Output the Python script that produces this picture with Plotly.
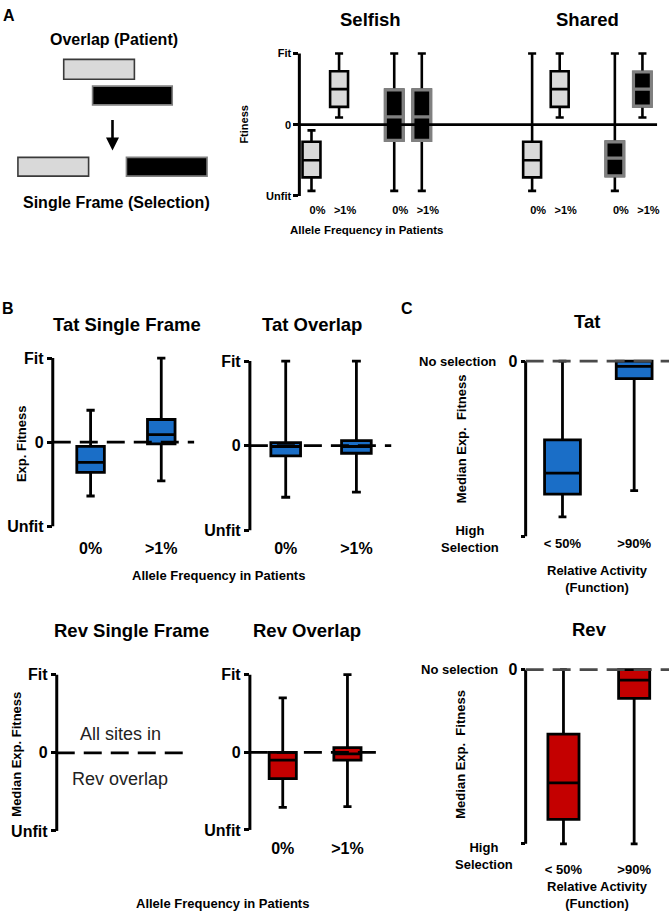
import plotly.graph_objects as go

W, H = 672, 920
FONT = "Liberation Sans, Arial, Helvetica, sans-serif"

# ---------------- DATA ----------------
# Panel A: expected fitness patterns (schematic), Selfish vs Shared sites
a_group = ["Selfish", "Selfish", "Selfish", "Selfish", "Shared", "Shared", "Shared", "Shared"]
a_frame = ["gray", "gray", "black", "black", "gray", "gray", "black", "black"]
a_slot = [0, 1, 3, 4, 8, 9, 11, 12]
a_freq = ["0%", ">1%", "0%", ">1%", "0%", ">1%", "0%", ">1%"]
a_lo = [-0.93, 0.10, -0.93, -0.93, -0.93, 0.10, -0.93, 0.10]
a_q1 = [-0.74, 0.25, -0.22, -0.22, -0.74, 0.25, -0.72, 0.26]
a_med = [-0.50, 0.50, 0.11, 0.11, -0.50, 0.50, -0.47, 0.50]
a_q3 = [-0.24, 0.75, 0.49, 0.49, -0.24, 0.75, -0.24, 0.74]
a_hi = [-0.08, 1.00, 1.00, 1.00, 1.00, 1.00, 1.00, 1.00]

# Panel B: allele frequency in patients
b_freq = ["0%", ">1%"]
tat_sf_lo = [-0.64, -0.46]
tat_sf_q1 = [-0.36, -0.02]
tat_sf_med = [-0.24, 0.09]
tat_sf_q3 = [-0.05, 0.27]
tat_sf_hi = [0.38, 1.00]

tat_ov_lo = [-0.61, -0.55]
tat_ov_q1 = [-0.12, -0.09]
tat_ov_med = [-0.01, -0.01]
tat_ov_q3 = [0.035, 0.06]
tat_ov_hi = [1.00, 1.00]

rev_ov_lo = [-0.71, -0.70]
rev_ov_q1 = [-0.34, -0.10]
rev_ov_med = [-0.10, -0.02]
rev_ov_q3 = [0.00, 0.06]
rev_ov_hi = [0.70, 1.00]

# Panel C: relative activity (function)
c_act = ["< 50%", ">90%"]
tat_c_lo = [-0.89, -0.74]
tat_c_q1 = [-0.76, -0.10]
tat_c_med = [-0.64, -0.03]
tat_c_q3 = [-0.45, 0.00]
tat_c_hi = [0.00, 0.00]

rev_c_lo = [-1.00, -1.00]
rev_c_q1 = [-0.86, -0.165]
rev_c_med = [-0.65, -0.06]
rev_c_q3 = [-0.37, 0.00]
rev_c_hi = [0.00, 0.00]

fit_ticks = [-1, 0, 1]
fit_text = ["Unfit", "0", "Fit"]

# ---------------- STYLE ----------------
BLUE = "#1a6ec7"
RED = "#c40000"
LIGHT = "#d9d9d9"
GREY_EDGE = "#808080"
frame_fill = {"gray": LIGHT, "black": "black"}
frame_edge = {"gray": "black", "black": GREY_EDGE}

fig = go.Figure()
axes = {}
shapes = []
annotations = []


def bold(size):
    return dict(family=FONT, size=size, color="black", weight="bold")


def names(n):
    s = "" if n == 1 else str(n)
    return "x" + s, "y" + s, "xaxis" + s, "yaxis" + s


def panel(n, xpx, xrange, ytop, ytop_px, ybot, ybot_px, pad, ytickvals, yticktext,
          ytick_fs, yticklen, xtickvals=None, xticktext=None, xtick_fs=13, xlab_y=0,
          zero_line=None, xshift=0):
    xr, yr, xk, yk = names(n)
    ppu = (ybot_px - ytop_px) / (ytop - ybot)
    top = ytop_px - pad * ppu
    bot = ybot_px + pad * ppu
    xa = dict(domain=[xpx[0] / W, xpx[1] / W], range=xrange, showgrid=False,
              zeroline=False, showline=False, ticks="", fixedrange=True)
    if xtickvals is not None:
        xa.update(tickmode="array", tickvals=xtickvals, ticktext=xticktext,
                  tickfont=bold(xtick_fs), anchor="free",
                  position=1 - (xlab_y - 0.5 * xtick_fs - 2) / H,
                  ticklabelshift=xshift, ticklabeloverflow="allow")
    else:
        xa.update(showticklabels=False, anchor=yr)
    ya = dict(domain=[1 - bot / H, 1 - top / H], range=[ybot - pad, ytop + pad],
              anchor=xr, showgrid=False, zeroline=False, showline=False,
              ticks="outside", ticklen=yticklen, tickwidth=3, tickcolor="black",
              tickmode="array", tickvals=ytickvals, ticktext=yticktext,
              tickfont=bold(ytick_fs), fixedrange=True)
    axes[xk] = xa
    axes[yk] = ya
    shapes.append(dict(type="line", xref=f"{xr} domain", yref=yr, x0=0, x1=0,
                       y0=ybot, y1=ytop, line=dict(color="black", width=3)))
    shapes.append(dict(type="line", xref=f"{xr} domain", yref=yr, x0=0, x1=1,
                       y0=0, y1=0, line=zero_line, layer="above"))
    return xr, yr


def add_box(xr, yr, pos, lo, q1, med, q3, hi, width, fill, edge, ww, lw=2.8):
    fig.add_trace(go.Box(x=[pos], lowerfence=[lo], q1=[q1], median=[med], q3=[q3],
                         upperfence=[hi], width=width, fillcolor=fill,
                         line=dict(color=edge, width=lw), whiskerwidth=ww,
                         boxpoints=False, xaxis=xr, yaxis=yr, hoverinfo="skip",
                         showlegend=False))


solid = dict(color="black", width=2.8)
dashed = dict(color="black", width=2.8, dash="18px,9px")
dashed_c = dict(color="#4a4a4a", width=2.8, dash="18px,9px")

# ---- Panel A ----
xa1, ya1 = panel(1, (300.7, 660), [-0.44, 12.53], 1, 49, -1, 193, 0.04,
                 fit_ticks, fit_text, 11, 5, a_slot, a_freq, 11, 207, solid, xshift=6)
for i in range(len(a_slot)):
    fr = a_frame[i]
    add_box(xa1, ya1, a_slot[i], a_lo[i], a_q1[i], a_med[i], a_q3[i], a_hi[i],
            0.65, frame_fill[fr], "black", 0.45, lw=2.6)
    if fr == "black":
        add_box(xa1, ya1, a_slot[i], a_q1[i], a_q1[i], a_med[i], a_q3[i], a_q3[i],
                0.65, frame_fill[fr], frame_edge[fr], 0, lw=3.2)

# ---- Panel B: Tat single frame ----
xb1, yb1 = panel(2, (53, 195), [-0.535, 1.465], 1, 357, -1, 527, 0.04,
                 fit_ticks, fit_text, 16, 5, [0, 1], b_freq, 16, 548, dashed)
for i in range(2):
    add_box(xb1, yb1, i, tat_sf_lo[i], tat_sf_q1[i], tat_sf_med[i], tat_sf_q3[i],
            tat_sf_hi[i], 0.39, BLUE, "black", 0.3)

# ---- Panel B: Tat overlap ----
xb2, yb2 = panel(3, (251, 393), [-0.507, 1.493], 1, 360, -1, 531, 0.04,
                 fit_ticks, fit_text, 16, 5, [0, 1], b_freq, 16, 548, dashed)
for i in range(2):
    add_box(xb2, yb2, i, tat_ov_lo[i], tat_ov_q1[i], tat_ov_med[i], tat_ov_q3[i],
            tat_ov_hi[i], 0.42, BLUE, "black", 0.3)

# ---- Panel B: Rev single frame (no sites) ----
xb3, yb3 = panel(4, (57, 188), [-0.5, 1.5], 1, 677, -1, 835, 0.04,
                 fit_ticks, fit_text, 16, 5, None, None, zero_line=dashed)

# ---- Panel B: Rev overlap ----
xb4, yb4 = panel(5, (251, 383), [-0.508, 1.523], 1, 677, -1, 834, 0.04,
                 fit_ticks, fit_text, 16, 5, [0, 1], b_freq, 16, 851, dashed)
for i in range(2):
    add_box(xb4, yb4, i, rev_ov_lo[i], rev_ov_q1[i], rev_ov_med[i], rev_ov_q3[i],
            rev_ov_hi[i], 0.42, RED, "black", 0.3)

# ---- Panel C: Tat ----
xc1, yc1 = panel(6, (528, 672), [-0.514, 1.486], 0, 360, -1, 537, 0.03,
                 [-1, 0], ["", "0"], 16, 4, [0, 1], c_act, 13, 543, dashed_c)
for i in range(2):
    add_box(xc1, yc1, i, tat_c_lo[i], tat_c_q1[i], tat_c_med[i], tat_c_q3[i],
            tat_c_hi[i], 0.5, BLUE, "black", 0.22)

# ---- Panel C: Rev ----
xc2, yc2 = panel(7, (528, 672), [-0.535, 1.493], 0, 672, -1, 848, 0.03,
                 [-1, 0], ["", "0"], 16, 4, [0, 1], c_act, 13, 873, dashed_c)
for i in range(2):
    add_box(xc2, yc2, i, rev_c_lo[i], rev_c_q1[i], rev_c_med[i], rev_c_q3[i],
            rev_c_hi[i], 0.44, RED, "black", 0.22)


# ---------------- TEXT ----------------
def txt(text, x, y, size, weight="bold", xanchor="center", angle=0, color="black"):
    annotations.append(dict(text=text, x=x / W, y=1 - y / H, xref="paper", yref="paper",
                            xanchor=xanchor, yanchor="middle", showarrow=False,
                            textangle=angle,
                            font=dict(family=FONT, size=size, color=color, weight=weight)))


txt("A", 9, 11, 16)
txt("B", 8, 307, 16)
txt("C", 409, 307, 16)

txt("Overlap (Patient)", 115, 35, 16)
txt("Single Frame (Selection)", 117, 200, 16)
txt("Selfish", 372, 15, 18.5)
txt("Shared", 590, 15, 18.5)
txt("Ftiness", 245, 120, 11, angle=-90)
txt("Allele Frequency in Patients", 368, 227, 11.5)

txt("Tat Single Frame", 128, 323, 18.5)
txt("Tat Overlap", 313, 323, 18.5)
txt("Exp. Fitness", 21, 443, 13, angle=-90)
txt("Allele Frequency in Patients", 219, 577, 13)

txt("Rev Single Frame", 132, 632, 18.5)
txt("Rev Overlap", 308, 632, 18.5)
txt("Median Exp. Fitness", 17, 757, 13, angle=-90)
txt("All sites in", 121, 737, 18, weight="normal", color="#222222")
txt("Rev overlap", 121, 782, 18, weight="normal", color="#222222")
txt("Allele Frequency in Patients", 223, 908, 13)

txt("Tat", 590, 320, 18.5)
txt("No selection", 500, 360, 13, xanchor="right")
txt("Median Exp.  Fitness", 463, 438, 13, angle=-90)
txt("High<br>Selection", 472, 540, 13)
txt("Relative Activity<br>(Function)", 600, 580, 13)

txt("Rev", 592, 631, 18.5)
txt("No selection", 502, 672, 13, xanchor="right")
txt("Median Exp.  Fitness", 463, 757, 13, angle=-90)
txt("High<br>Selection", 486, 860, 13)
txt("Relative Activity<br>(Function)", 600, 900, 13)

# ---------------- SCHEMATIC (panel A, left) ----------------
def rect(x0, y0, x1, y1, fill, edge):
    shapes.append(dict(type="rect", xref="paper", yref="paper",
                       x0=x0 / W, x1=x1 / W, y0=1 - y1 / H, y1=1 - y0 / H,
                       fillcolor=fill, line=dict(color=edge, width=1.6)))


rect(64, 55, 135, 75, LIGHT, "#3a3a3a")
rect(93, 82, 173, 101, "black", GREY_EDGE)
rect(18, 154, 89, 173, LIGHT, "#3a3a3a")
rect(127, 154, 208, 173, "black", GREY_EDGE)
annotations.append(dict(x=113 / W, y=1 - 147 / H, xref="paper", yref="paper",
                        ax=0, ay=-32, showarrow=True, arrowhead=2, arrowsize=1,
                        arrowwidth=2.6, arrowcolor="black", text="", standoff=0))

fig.update_layout(width=W, height=H, margin=dict(l=0, r=0, t=0, b=0),
                  paper_bgcolor="white", plot_bgcolor="rgba(0,0,0,0)",
                  showlegend=False, boxmode="overlay",
                  shapes=shapes, annotations=annotations, **axes)

fig.write_html("out.html", config={"displayModeBar": False, "staticPlot": True},
               post_script="document.body.style.margin='0';document.body.style.overflow='hidden';")
